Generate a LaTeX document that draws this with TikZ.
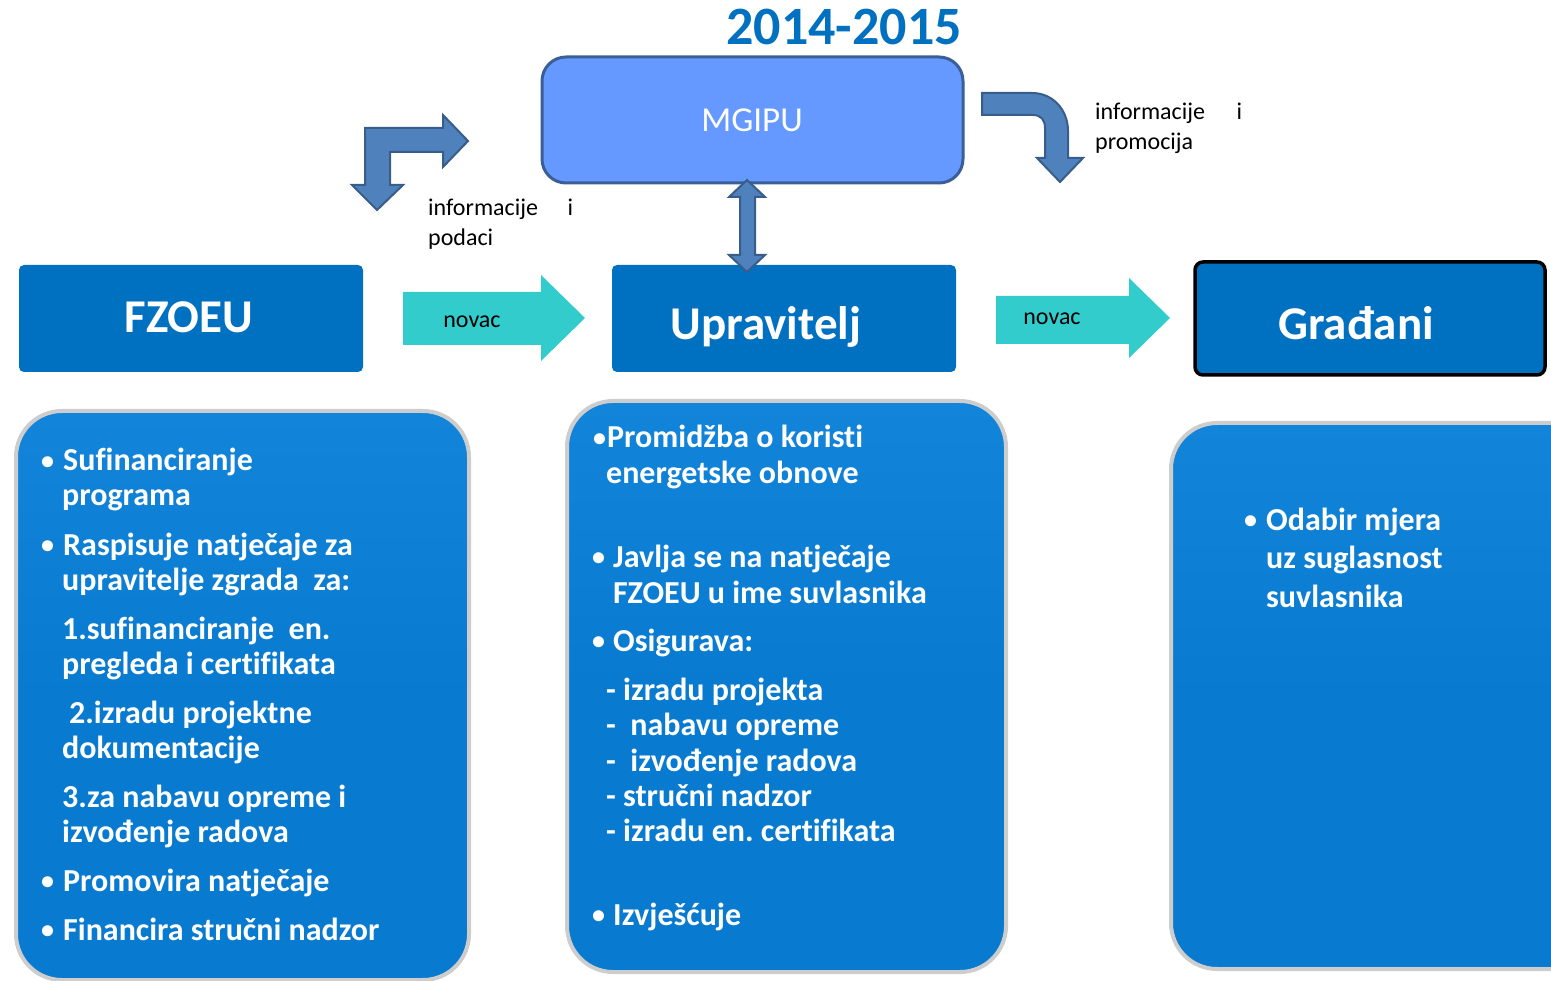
\documentclass[tikz,border=0pt]{standalone}
\usepackage{fontspec}
\setmainfont{Carlito}[Ligatures=NoCommon]
\definecolor{boxblue}{RGB}{0,112,192}
\definecolor{panelblue}{RGB}{8,122,207}
\definecolor{paneltop}{RGB}{18,132,218}
\definecolor{mgblue}{RGB}{102,153,255}
\definecolor{mgedge}{RGB}{58,94,150}
\definecolor{steel}{RGB}{79,129,189}
\definecolor{steeledge}{RGB}{56,93,138}
\definecolor{cyanarrow}{RGB}{51,204,204}
\definecolor{panelrim}{RGB}{205,205,205}
\newcommand\bulbox[1]{\makebox[#1][l]{\raisebox{1.5pt}{\fontsize{26}{26}\selectfont •}}}
\begin{document}
\frenchspacing
\begin{tikzpicture}[x=1pt,y=-1pt,
  panel/.style={draw=panelrim, line width=4pt, rounded corners=46pt, top color=paneltop, bottom color=panelblue, middle color=panelblue},
  actor/.style={fill=boxblue, rounded corners=5pt, inner sep=0pt},
  actortext/.style={font=\bfseries\fontsize{47}{50}\selectfont, text=white, anchor=base, inner sep=0pt},
  bent/.style={fill=steel, draw=steeledge, line width=2pt, line join=miter},
  money/.style={fill=cyanarrow},
  small/.style={font=\fontsize{24}{28}\selectfont, text=black, anchor=base west, inner sep=0pt},
  pt/.style={font=\bfseries\fontsize{32}{36}\selectfont, text=white, anchor=base west, inner sep=0pt}]
\useasboundingbox (0,0) rectangle (1551,981);
\clip (0,0) rectangle (1551,981);

% title
\node[font=\bfseries\fontsize{54}{60}\selectfont, text=boxblue, anchor=base, inner sep=0pt] (title) at (844,45) {2014-2015};

% MGIPU
\draw[fill=mgblue, draw=mgedge, line width=3pt, rounded corners=24pt] (542,57) rectangle (963,183);
\node[font=\fontsize{35}{38}\selectfont, text=white, anchor=base, inner sep=0pt] (mgipu) at (752,132) {MGIPU};
\coordinate (mgbottom) at (747,180);

% actor boxes
\fill[actor] (19,265) rectangle (363,372);
\node[actortext] (fzoeu) at (189,333) {FZOEU};
\fill[actor] (612,265) rectangle (956,372);
\node[actortext] (uprav) at (766,340) {Upravitelj};
\coordinate (uptop) at (747,272);
\draw[fill=boxblue, draw=black, line width=3.5pt, rounded corners=8pt] (1195,262) rectangle (1545,375);
\node[actortext] (gradjani) at (1356,340) {Građani};

% money arrows
\fill[money] (403,292) -- (541,292) -- (541,275) -- (585,318) -- (541,361) -- (541,345) -- (403,345) -- cycle;
\node[small, anchor=base] (novac1) at (472,328) {novac};
\fill[money] (996,296) -- (1129,296) -- (1129,278) -- (1170,318) -- (1129,358) -- (1129,344) -- (996,344) -- cycle;
\node[small, anchor=base] (novac2) at (1052,325) {novac};

% double arrow MGIPU <-> Upravitelj
\draw[bent] (mgbottom) -- (765,197) -- (755,197) -- (755,255) -- (765,255) -- (uptop) -- (729,255) -- (740,255) -- (740,197) -- (729,197) -- cycle;

% bent arrow left
\draw[bent] (377,210) -- (403,185) -- (390,185) -- (390,152) -- (443,152) -- (443,167) -- (468,141) -- (443,115) -- (443,128) -- (365,128) -- (365,185) -- (352,185) -- cycle;
\node[small] (info1a) at (428,216) {\makebox[145pt][l]{informacije\hfill i}};
\node[small] (info1b) at (428,246) {podaci};

% bent arrow right (rounded)
\draw[bent] (982,93) -- (1032,93) .. controls (1053,93) and (1068,110) .. (1068,131) -- (1068,158) -- (1083,158) -- (1060,182) -- (1037,158) -- (1045,158) -- (1045,128) .. controls (1045,120) and (1041,115) .. (1033,115) -- (982,115) -- cycle;
\node[small] (info2a) at (1095,120) {\makebox[147pt][l]{informacije\hfill i}};
\node[small] (info2b) at (1095,150) {promocija};

% panels
\draw[panel] (16,411) rectangle (469,980);
\draw[panel] (567,401) rectangle (1006,972);
\draw[panel] (1171,423) rectangle (1600,969);

% left panel text
\node[pt] (L1) at (41,471) {\bulbox{22pt}Sufinanciranje};
\node[pt] (L2) at (62,506) {programa};
\node[pt] (L3) at (41,555) {\bulbox{22pt}Raspisuje natječaje za};
\node[pt] (L4) at (62,590) {upravitelje zgrada~~za:};
\node[pt] (L5) at (62,639) {1.sufinanciranje~~en.};
\node[pt] (L6) at (62,674) {pregleda i certifikata};
\node[pt] (L7) at (69,723) {2.izradu projektne};
\node[pt] (L8) at (62,758) {dokumentacije};
\node[pt] (L9) at (62,807) {3.za nabavu opreme i};
\node[pt] (L10) at (62,842) {izvođenje radova};
\node[pt] (L11) at (41,891) {\bulbox{22pt}Promovira natječaje};
\node[pt] (L12) at (41,940) {\bulbox{22pt}Financira stručni nadzor};

% middle panel text
\node[pt] (M1) at (593,448) {\bulbox{14pt}Promidžba o koristi};
\node[pt] (M2) at (606,483) {energetske obnove};
\node[pt] (M3) at (592,567) {\bulbox{21pt}Javlja se na natječaje};
\node[pt] (M4) at (613,603) {FZOEU u ime suvlasnika};
\node[pt] (M5) at (592,651) {\bulbox{21pt}Osigurava:};
\node[pt] (M6) at (606,700) {- izradu projekta};
\node[pt] (M7) at (606,735) {-~~nabavu opreme};
\node[pt] (M8) at (606,771) {-~~izvođenje radova};
\node[pt] (M9) at (606,806) {- stručni nadzor};
\node[pt] (M10) at (606,841) {- izradu en. certifikata};
\node[pt] (M11) at (592,925) {\bulbox{21pt}Izvješćuje};

% right panel text
\node[pt] (R1) at (1244,530) {\bulbox{22pt}Odabir mjera};
\node[pt] (R2) at (1266,568) {uz suglasnost};
\node[pt] (R3) at (1266,607) {suvlasnika};
\end{tikzpicture}
\end{document}
